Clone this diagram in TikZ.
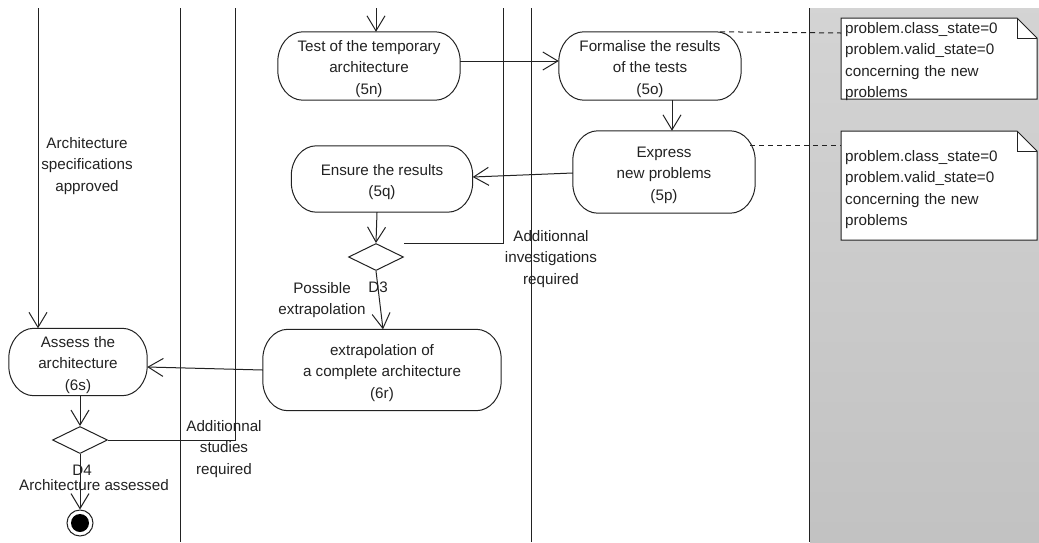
\documentclass[tikz,border=0pt]{standalone}
\usepackage{fontspec}
\setmainfont{Liberation Sans}
\usetikzlibrary{arrows.meta,shapes.geometric,calc}
\definecolor{ink}{HTML}{222222}
% activity: invisible frame node, rounded outline and its centred text
\newcommand{\activity}[6]{% name, x, y, width, height, text
  \node[minimum width=#4pt, minimum height=#5pt, inner sep=0pt] (#1) at (#2,#3) {};
  \draw[line]
    ($(#1.north east)+(-25,0)$) arc[start angle=90,end angle=0,x radius=25pt,y radius=30pt]
    -- ($(#1.south east)+(0,-30)$) arc[start angle=0,end angle=-90,x radius=25pt,y radius=30pt]
    -- ($(#1.south west)+(25,0)$) arc[start angle=270,end angle=180,x radius=25pt,y radius=30pt]
    -- ($(#1.north west)+(0,30)$) arc[start angle=180,end angle=90,x radius=25pt,y radius=30pt]
    -- cycle;
  \node[lbl] at ($(#1.center)+(0,3)$) {#6};}
\begin{document}
\begin{tikzpicture}[x=1pt,y=-1pt,
  every node/.style={font=\fontsize{15.2}{21.5}\selectfont, text=ink},
  line/.style={draw=ink, line width=1pt},
  arr/.style={line, -{Straight Barb[length=15pt,width=18pt,line width=1pt]}},
  decision/.style={line, diamond, inner sep=0pt, minimum width=55pt, minimum height=27pt, fill=white},
  lbl/.style={align=center, inner sep=0pt},
  notetext/.style={align=left, inner sep=4pt, text width=188pt, anchor=north west}]
  \useasboundingbox (0,0) rectangle (1039,542);
  \fill[white] (0,0) rectangle (1039,542);

  % grey partition on the right
  \shade[top color=black!17, bottom color=black!24] (810,8) rectangle (1039,542);

  % partition borders
  \draw[line] (180,8) -- (180,542);
  \draw[line] (531,8) -- (531,542);
  \draw[line] (809,8) -- (809,542);

  % activities
  \activity{n5n}{369}{66}{182}{68}{Test of the temporary\\architecture\\(5n)}
  \activity{n5o}{650}{66}{182}{68}{Formalise the results\\of the tests\\(5o)}
  \activity{n5p}{664}{172}{182}{82}{Express\\new problems\\(5p)}
  \activity{n5q}{382}{179}{181}{66}{Ensure the results\\(5q)}
  \activity{n6r}{382}{370}{238}{81}{extrapolation of\\a complete architecture\\(6r)}
  \activity{n6s}{78}{362}{138}{67}{Assess the\\architecture\\(6s)}

  % decisions
  \node[decision] (d3) at (376,257) {};
  \node[decision] (d4) at (80,440) {};

  % final state
  \node[line, circle, minimum size=26pt, inner sep=0pt] (fin) at (80,523) {};
  \fill[black] (fin.center) circle (9pt);

  % free ends at the top edge
  \coordinate (topA) at (38,8);
  \coordinate (topB) at (376,8);
  \coordinate (topC) at (503,8);
  \coordinate (topD) at (235,8);

  % flows
  \draw[arr] (topB) -- (n5n.north -| topB);
  \draw[arr] (n5n.east |- 0,61) -- (n5o.west |- 0,61);
  \draw[arr] (n5o.south -| 672,0) -- (n5p.north -| 672,0);
  \draw[arr] (n5p.west |- 0,173) -- (n5q.east |- 0,177);
  \draw[arr] (n5q.south -| 377,0) -- (d3.north);
  \draw[line] (d3.east |- d3.north) -- (topC |- d3.north) -- (topC);
  \draw[arr] (d3.south) -- (n6r.north -| 383,0);
  \draw[arr] (n6r.west) -- (n6s.east |- 0,367);
  \draw[arr] (topA) -- (n6s.north -| topA);
  \draw[arr] (n6s.south -| d4) -- (d4.north);
  \draw[line] (d4.east) -- (topD |- d4.east) -- (topD);
  \draw[arr] (d4.south) -- (fin.north);

  % flow labels
  \node[lbl] at (87,166) {Architecture\\specifications\\approved};
  \node[lbl] at (551,259) {Additionnal\\investigations\\required};
  \node[lbl] at (322,300) {Possible\\extrapolation};
  \node[lbl] at (378,287) {D3};
  \node[lbl] at (224,449) {Additionnal\\studies\\required};
  \node[lbl] at (82,470) {D4};
  \node[lbl] at (94,485) {Architecture assessed};

  % notes
  \foreach \top/\bot in {18/99, 131/240} {
    \draw[line, fill=white] (841,\top) -- (1017,\top) -- (1037,\top+20) -- (1037,\bot)
      -- (841,\bot) -- cycle;
    \draw[line] (1017,\top) -- (1017,\top+20) -- (1037,\top+20);
  }
  \node[notetext, minimum height=81pt] (note1) at (841,18)
    {problem.class\_state=0\\problem.valid\_state=0\\concerning the new\\problems};
  \node[notetext, minimum height=109pt] (note2) at (841,135)
    {problem.class\_state=0\\problem.valid\_state=0\\concerning the new\\problems};

  % note attachments
  \draw[line, dash pattern=on 5pt off 4pt] (n5o.north -| 720,0) -- (note1.west |- 0,33);
  \draw[line, dash pattern=on 5pt off 4pt] (750,145) -- (note2.west |- 0,145);
\end{tikzpicture}
\end{document}
